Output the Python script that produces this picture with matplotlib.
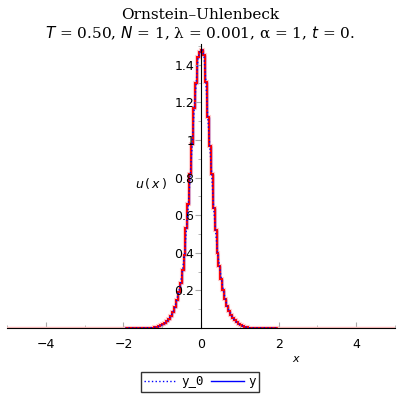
import numpy as np
import matplotlib
matplotlib.use("Agg")
import matplotlib.pyplot as plt
from matplotlib.ticker import MultipleLocator

# histogram bins, width 0.05, from -1.50 to 1.50
bin_w = 0.05
left_vals = [0.001, 0.0, 0.001, 0.001, 0.002, 0.002, 0.004, 0.006, 0.010, 0.015,
             0.020, 0.028, 0.038, 0.050, 0.065, 0.085, 0.110, 0.150, 0.190, 0.240,
             0.310, 0.390, 0.530, 0.660, 0.820, 0.980, 1.170, 1.300, 1.440, 1.470]
right_vals = [1.480, 1.450, 1.310, 1.120, 0.970, 0.820, 0.640, 0.520, 0.400, 0.330,
              0.260, 0.200, 0.155, 0.115, 0.090, 0.068, 0.052, 0.040, 0.030, 0.022,
              0.017, 0.011, 0.007, 0.004, 0.002, 0.001, 0.001, 0.0, 0.001, 0.0]
# a few stray counts in the far tails
tail_left = [0.0, 0.0, 0.0, 0.001, 0.0, 0.0, 0.0, 0.001, 0.0, 0.0]
tail_right = [0.0, 0.0, 0.001, 0.0, 0.0, 0.001, 0.0, 0.0, 0.0, 0.0]

xticks = [-4, -2, 0, 2, 4]
yticks = [0.2, 0.4, 0.6, 0.8, 1.0, 1.2, 1.4]
ytick_labels = ["0.2", "0.4", "0.6", "0.8", "1", "1.2", "1.4"]

vals = np.array(tail_left + left_vals + right_vals + tail_right)
n_side = len(tail_left) + len(left_vals)
edges = (np.arange(len(vals) + 1) - n_side) * bin_w
centers = 0.5 * (edges[:-1] + edges[1:])

# pad with flat zero line out to the plot edges
xs0 = np.concatenate([[-5.0], centers, [5.0]])
ys0 = np.concatenate([[0.0], vals, [0.0]])

fig = plt.figure(figsize=(4, 4), dpi=100)
ax = fig.add_axes([7 / 400, 1 - 328 / 400, 388 / 400, (328 - 44) / 400])

ax.plot(xs0, ys0, ls=":", color="blue", lw=1.0, label="y_0")
ax.stairs(vals, edges, color="blue", lw=1.0, label="y", baseline=None)
ax.plot([-5, edges[0]], [0, 0], color="#ffc0c0", lw=2.5)
ax.plot([edges[-1], 5], [0, 0], color="#ffc0c0", lw=2.5)
ax.stairs(vals, edges, color="red", lw=3, alpha=0.2, baseline=None)
ax.stairs(vals, edges, color="red", lw=1.4, baseline=None)

ax.set_xlim(-5, 5)
ax.set_ylim(0, 1.51)

for s in ["top", "right"]:
    ax.spines[s].set_visible(False)
ax.spines["left"].set_position(("data", 0))
ax.spines["bottom"].set_position(("data", 0))
ax.spines["left"].set_zorder(5)
ax.spines["bottom"].set_zorder(5)

ax.set_xticks(xticks)
ax.xaxis.set_minor_locator(MultipleLocator(1))
ax.set_yticks(yticks)
ax.set_yticklabels(ytick_labels)
ax.yaxis.set_minor_locator(MultipleLocator(0.1))
ax.tick_params(axis="x", direction="in", length=4, color="#aaaaaa", labelsize=9, pad=7)
ax.tick_params(axis="x", which="minor", direction="in", length=2, color="#aaaaaa")
ax.tick_params(axis="y", direction="out", length=4, color="#aaaaaa", labelsize=9, pad=1)
ax.tick_params(axis="y", which="minor", direction="out", length=2, color="#aaaaaa")

ax.text(-1.3, 0.77, r"$u\,(\,x\,)$", fontsize=9, family="serif", ha="center", va="center")
ax.text(2.45, -0.165, r"$x$", fontsize=8, family="serif", ha="center", va="center")

fig.text(0.5, 0.962, "Ornstein–Uhlenbeck", ha="center", va="center",
         fontsize=11, family="DejaVu Serif")
fig.text(0.5, 0.918, r"$T$ = 0.50, $N$ = 1, λ = 0.001, α = 1, $t$ = 0.",
         ha="center", va="center", fontsize=11, family="DejaVu Serif")

leg = ax.legend(loc="center", bbox_to_anchor=(0.5, 1 - 382 / 400), bbox_transform=fig.transFigure,
                ncol=2, frameon=True, fancybox=False, edgecolor="black", fontsize=9,
                handlelength=2.6, columnspacing=0.6, handletextpad=0.4, borderpad=0.25)
leg.get_frame().set_linewidth(1)
for t in leg.get_texts():
    t.set_family("DejaVu Sans Mono")

fig.savefig("out.png", dpi=100)
